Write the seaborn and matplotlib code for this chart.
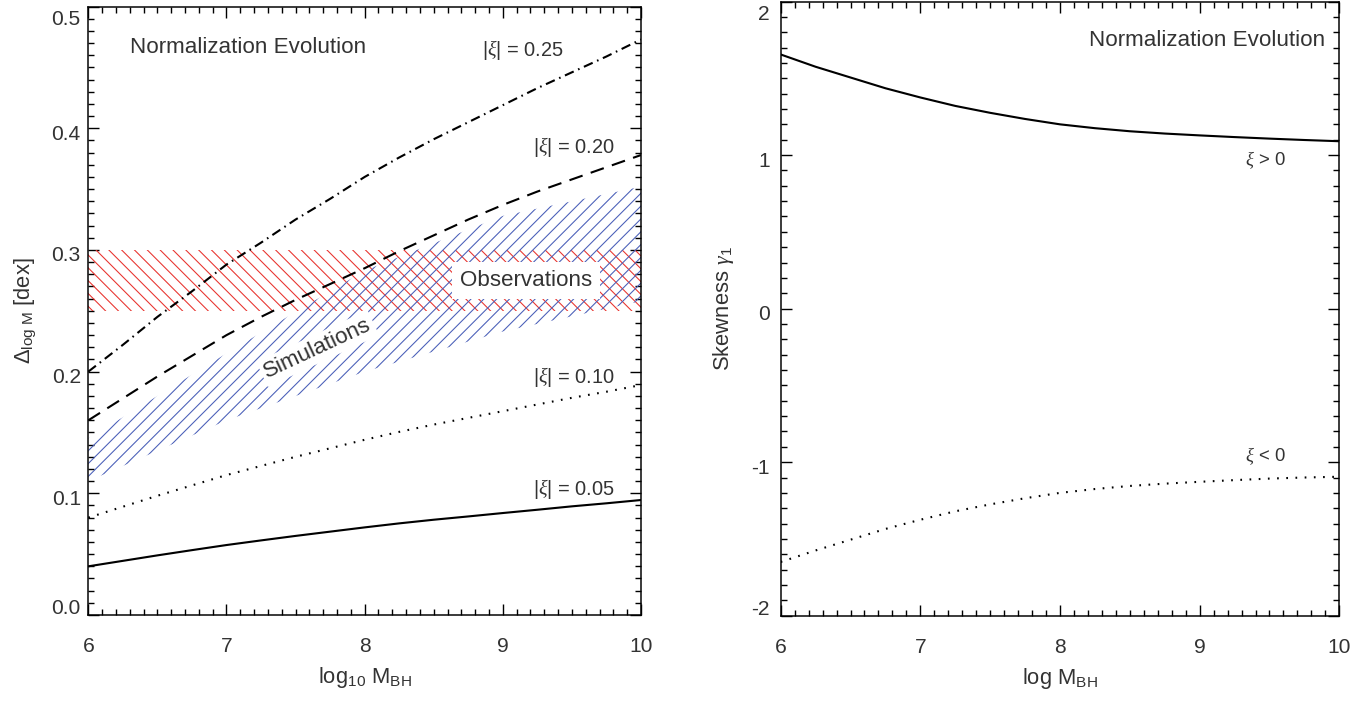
import matplotlib
matplotlib.use("Agg")
import matplotlib.pyplot as plt
import matplotlib.transforms as mtransforms
from matplotlib.ticker import MultipleLocator
import seaborn as sns

# ---------------- data ----------------
log_mbh = [6.0, 6.25, 6.5, 6.75, 7.0, 7.25, 7.5, 7.75, 8.0,
           8.25, 8.5, 8.75, 9.0, 9.25, 9.5, 9.75, 10.0]
delta_xi025 = [0.200, 0.222, 0.245, 0.266, 0.288, 0.306, 0.325, 0.342, 0.360,
               0.376, 0.391, 0.405, 0.419, 0.433, 0.446, 0.459, 0.473]
delta_xi020 = [0.160, 0.178, 0.196, 0.213, 0.230, 0.245, 0.259, 0.272, 0.285,
               0.299, 0.312, 0.325, 0.337, 0.348, 0.358, 0.368, 0.378]
delta_xi010 = [0.080, 0.089, 0.098, 0.1065, 0.115, 0.1225, 0.130, 0.137, 0.144,
               0.1505, 0.1565, 0.162, 0.1675, 0.173, 0.1785, 0.1835, 0.189]
delta_xi005 = [0.040, 0.0445, 0.049, 0.0533, 0.0575, 0.0613, 0.065, 0.0685, 0.072,
               0.0753, 0.0783, 0.081, 0.0838, 0.0865, 0.0893, 0.0918, 0.0945]

sim_x = [6.0, 7.0, 8.0, 9.0, 10.0]
sim_lower = [0.110, 0.160, 0.200, 0.233, 0.258]
sim_upper = [0.145, 0.215, 0.283, 0.328, 0.352]

obs_x = [6.0, 10.0]
obs_lower = [0.25, 0.25]
obs_upper = [0.30, 0.30]

skew_pos = [1.655, 1.575, 1.505, 1.435, 1.375, 1.320, 1.275, 1.235, 1.200,
            1.175, 1.155, 1.140, 1.128, 1.117, 1.107, 1.098, 1.090]
skew_neg = [-1.650, -1.575, -1.505, -1.435, -1.375, -1.320, -1.275, -1.235, -1.200,
            -1.175, -1.155, -1.140, -1.128, -1.117, -1.107, -1.100, -1.095]

left_yticks = [0.0, 0.1, 0.2, 0.3, 0.4, 0.5]
left_ylabels = ["0.0", "0.1", "0.2", "0.3", "0.4", "0.5"]
right_yticks = [-2, -1, 0, 1, 2]
right_ylabels = ["-2", "-1", "0", "1", "2"]
xticks = [6, 7, 8, 9, 10]
xlabels = ["6", "7", "8", "9", "10"]

# ---------------- style ----------------
DPI = 77
W, H = 1366, 703
PT = 72.0 / DPI  # points per pixel

sns.set_theme(style="white")
plt.rcParams.update({
    "font.family": ["Liberation Sans", "DejaVu Sans"],
    "mathtext.fontset": "custom",
    "mathtext.rm": "Liberation Sans",
    "mathtext.it": "Liberation Serif:italic",
    "mathtext.bf": "Liberation Sans:bold",
    "lines.scale_dashes": False,
    "hatch.linewidth": 1.0,
    "text.color": "#333333",
    "axes.labelcolor": "#333333",
    "xtick.labelcolor": "#333333",
    "ytick.labelcolor": "#333333",
    "xtick.color": "black",
    "ytick.color": "black",
})

TICK_FS = 21 * PT
TXT_FS = 22.4 * PT
SMALL_FS = 20 * PT
XI_FS = 18.5 * PT
LAB_FS = 22 * PT

fig = plt.figure(figsize=(W / DPI, H / DPI), dpi=DPI)
ax1 = fig.add_axes([88.3 / W, (H - 615.0) / H, (641.0 - 88.3) / W, (615.0 - 6.6) / H])
ax2 = fig.add_axes([780.7 / W, (H - 615.7) / H, (1339.3 - 780.7) / W, (615.7 - 1.5) / H])

LW = 2.1 * PT

# ---------------- left panel ----------------
ax1.fill_between(obs_x, obs_lower, obs_upper, facecolor="none",
                 edgecolor="#e8332e", hatch="\\\\", linewidth=0, zorder=1)
ax1.fill_between(sim_x, sim_lower, sim_upper, facecolor="none",
                 edgecolor="#4a5fb8", hatch="//", linewidth=0, zorder=2)

sns.lineplot(x=log_mbh, y=delta_xi025, ax=ax1, color="black", lw=LW,
             linestyle=(0, (9, 4.5, 1.5, 4.5)), zorder=3)
sns.lineplot(x=log_mbh, y=delta_xi020, ax=ax1, color="black", lw=LW,
             linestyle=(0, (13, 8)), zorder=3)
sns.lineplot(x=log_mbh, y=delta_xi010, ax=ax1, color="black", lw=LW,
             linestyle=(0, (1.6, 7)), zorder=3)
sns.lineplot(x=log_mbh, y=delta_xi005, ax=ax1, color="black", lw=LW,
             linestyle="-", zorder=3)

ax1.set_xlim(6, 10)
ax1.set_ylim(0, 0.5)

ax1.text(6.30, 0.466, "Normalization Evolution", fontsize=TXT_FS,
         ha="left", va="center", zorder=5)
ax1.text(8.85, 0.464, r"$|\xi|$ = 0.25", fontsize=SMALL_FS, ha="left", va="center")
ax1.text(9.22, 0.3845, r"$|\xi|$ = 0.20", fontsize=SMALL_FS, ha="left", va="center")
ax1.text(9.22, 0.196, r"$|\xi|$ = 0.10", fontsize=SMALL_FS, ha="left", va="center")
ax1.text(9.22, 0.1035, r"$|\xi|$ = 0.05", fontsize=SMALL_FS, ha="left", va="center")

ax1.text(9.17, 0.275, "Observations", fontsize=TXT_FS, ha="center", va="center",
         bbox=dict(boxstyle="square,pad=0.35", fc="white", ec="none"), zorder=6)
ax1.text(7.66, 0.219, "Simulations", fontsize=TXT_FS, ha="center", va="center",
         rotation=25, rotation_mode="anchor",
         bbox=dict(boxstyle="square,pad=0.15", fc="white", ec="none"), zorder=6)

ax1.set_xlabel(r"log$_{10}$ M$_{\rm BH}$", fontsize=LAB_FS, labelpad=9 * PT)
ax1.set_ylabel(r"$\Delta_{\rm log\ M}$ [dex]", fontsize=LAB_FS, labelpad=14 * PT)

# ---------------- right panel ----------------
sns.lineplot(x=log_mbh, y=skew_pos, ax=ax2, color="black", lw=LW, linestyle="-")
sns.lineplot(x=log_mbh, y=skew_neg, ax=ax2, color="black", lw=LW,
             linestyle=(0, (1.6, 7)))
ax2.set_xlim(6, 10)
ax2.set_ylim(-2, 2)

ax2.text(9.90, 1.743, "Normalization Evolution", fontsize=TXT_FS,
         ha="right", va="center")
ax2.text(9.47, 0.967, r"$\xi$ > 0", fontsize=XI_FS, ha="center", va="center")
ax2.text(9.47, -0.961, r"$\xi$ < 0", fontsize=XI_FS, ha="center", va="center")

ax2.set_xlabel(r"log M$_{\rm BH}$", fontsize=LAB_FS, labelpad=9 * PT)
ax2.set_ylabel(r"Skewness $\gamma_{1}$", fontsize=LAB_FS, labelpad=15 * PT)

# ---------------- axes cosmetics ----------------
for ax, yt, yl, ymin_step, ypad in ((ax1, left_yticks, left_ylabels, 0.01, 7.5),
                                    (ax2, right_yticks, right_ylabels, 0.1, 11)):
    ax.set_xticks(xticks)
    ax.set_xticklabels(xlabels)
    ax.set_yticks(yt)
    ax.set_yticklabels(yl)
    ax.xaxis.set_minor_locator(MultipleLocator(0.1))
    ax.yaxis.set_minor_locator(MultipleLocator(ymin_step))
    ax.tick_params(which="both", direction="in", top=True, right=True,
                   bottom=True, left=True,
                   width=1.4 * PT, labelsize=TICK_FS)
    ax.tick_params(which="major", length=11 * PT)
    ax.tick_params(which="minor", length=6 * PT)
    ax.tick_params(axis="x", which="major", pad=22 * PT)
    ax.tick_params(axis="y", which="major", pad=ypad * PT)
    for sp in ax.spines.values():
        sp.set_color("black")
        sp.set_linewidth(1.5 * PT)
    ax.set_facecolor("white")

    # IDL-like vertical placement of y tick labels
    ticks = ax.yaxis.get_major_ticks()
    n = len(yt)
    for i, tk in enumerate(ticks[:n]):
        if i == 0:
            dy = 8
        elif i == n - 1:
            dy = -11
        else:
            dy = -4
        off = mtransforms.ScaledTranslation(0, dy / DPI, fig.dpi_scale_trans)
        tk.label1.set_transform(tk.label1.get_transform() + off)

fig.savefig("out.png", dpi=DPI)
